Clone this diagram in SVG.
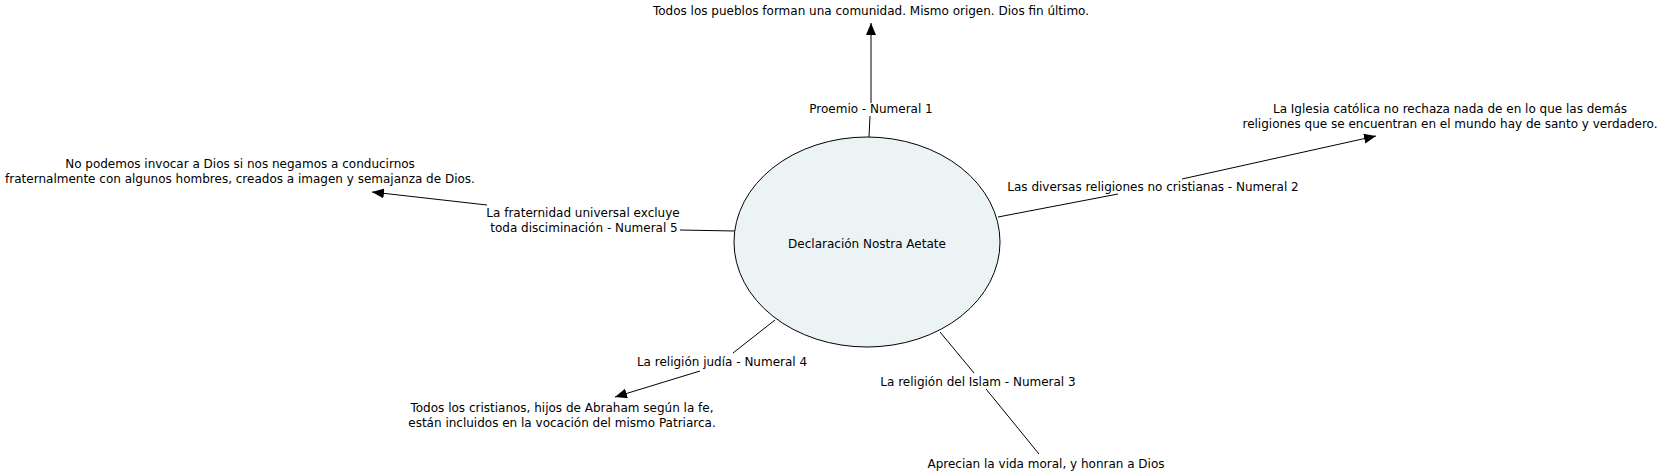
<svg xmlns="http://www.w3.org/2000/svg" width="1670" height="476" viewBox="0 0 1670 476">
<style>
text{font-family:"DejaVu Sans","Liberation Sans",sans-serif;font-size:12px;fill:#000;text-anchor:middle}
.c{stroke:#000;stroke-width:1;fill:none}
.a{marker-end:url(#arr)}
</style>
<defs>
<marker id="arr" markerUnits="userSpaceOnUse" markerWidth="14" markerHeight="12" refX="12" refY="5" orient="auto">
<path d="M0,0 L12,5 L0,10 Z" fill="#000"/>
</marker>
</defs>
<rect width="1670" height="476" fill="#fff"/>
<g id="connectors">
<line class="c" x1="869" y1="137" x2="870" y2="116"/>
<line class="c a" x1="871" y1="103" x2="871" y2="23"/>
<line class="c" x1="998" y1="217" x2="1118" y2="194"/>
<line class="c a" x1="1182" y1="179" x2="1376" y2="136"/>
<line class="c" x1="735" y1="231" x2="680" y2="230"/>
<line class="c a" x1="487" y1="205" x2="372" y2="192"/>
<line class="c" x1="775" y1="320" x2="733" y2="353"/>
<line class="c a" x1="700" y1="371" x2="615" y2="397"/>
<line class="c" x1="940" y1="332" x2="974" y2="373"/>
<line class="c" x1="986" y1="389" x2="1039" y2="454"/>
</g>
<g id="center">
<ellipse cx="867" cy="242" rx="133" ry="105" fill="#EBF3F5" stroke="#000" stroke-width="1"/>
<text x="867" y="248">Declaración Nostra Aetate</text>
</g>
<g id="n1"><text x="871" y="15">Todos los pueblos forman una comunidad. Mismo origen. Dios fin último.</text></g>
<g id="l1"><text x="871" y="113">Proemio - Numeral 1</text></g>
<g id="n2"><text x="1450" y="113">La Iglesia católica no rechaza nada de en lo que las demás</text><text x="1450" y="128">religiones que se encuentran en el mundo hay de santo y verdadero.</text></g>
<g id="l2"><text x="1153" y="191">Las diversas religiones no cristianas - Numeral 2</text></g>
<g id="n5"><text x="240" y="168">No podemos invocar a Dios si nos negamos a conducirnos</text><text x="240" y="183">fraternalmente con algunos hombres, creados a imagen y semajanza de Dios.</text></g>
<g id="l5"><text x="583" y="217">La fraternidad universal excluye</text><text x="584" y="232">toda disciminación - Numeral 5</text></g>
<g id="l4"><text x="722" y="366">La religión judía - Numeral 4</text></g>
<g id="n4"><text x="562" y="412">Todos los cristianos, hijos de Abraham según la fe,</text><text x="562" y="427">están incluidos en la vocación del mismo Patriarca.</text></g>
<g id="l3"><text x="978" y="386">La religión del Islam - Numeral 3</text></g>
<g id="n3"><text x="1046" y="468">Aprecian la vida moral, y honran a Dios</text></g>
</svg>
